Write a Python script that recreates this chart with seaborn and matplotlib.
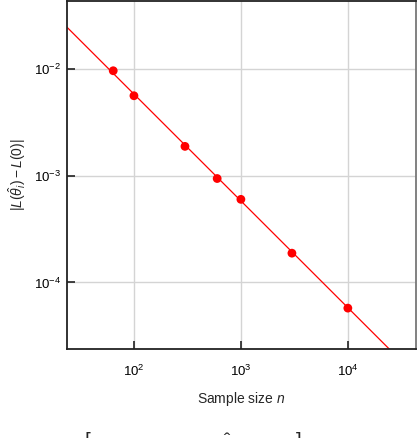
import numpy as np
import pandas as pd
import matplotlib
matplotlib.use("Agg")
import matplotlib.pyplot as plt
import seaborn as sns

# measured points
sample_n = [64, 100, 300, 600, 1000, 3000, 10000]
loss_gap = [0.0096, 0.0056, 0.00188, 0.00094, 0.0006, 0.000188, 0.0000575]

# fitted line endpoints (slope -1 on log-log)
line_n = [15, 60000]
line_gap = [0.0387, 0.00000968]

sns.set_theme(style="whitegrid")
plt.rcParams["font.family"] = ["Liberation Sans", "DejaVu Sans"]
plt.rcParams["mathtext.fontset"] = "custom"
plt.rcParams["mathtext.rm"] = "Liberation Sans"
plt.rcParams["mathtext.it"] = "Liberation Sans:italic"

fig = plt.figure(figsize=(4.18, 4.38), dpi=100)
ax = fig.add_axes([0.160, 0.204, 0.835, 0.794])

pts = pd.DataFrame({"n": sample_n, "gap": loss_gap})
fit = pd.DataFrame({"n": line_n, "gap": line_gap})

sns.lineplot(data=fit, x="n", y="gap", color="red", linewidth=0.9, ax=ax)
sns.scatterplot(data=pts, x="n", y="gap", color="red", s=40, edgecolor="none", ax=ax, zorder=3)

ax.set_xscale("log")
ax.set_yscale("log")
ax.set_xlim(23.6, 43300)
ax.set_ylim(2.4e-5, 0.0433)
ax.set_xticks([1e2, 1e3, 1e4])
ax.set_yticks([1e-2, 1e-3, 1e-4])
ax.minorticks_off()

ax.grid(True, color="#d4d4d4", linewidth=1.0)
ax.set_facecolor("white")
for side in ["left", "bottom", "top"]:
    ax.spines[side].set_color("#222222")
    ax.spines[side].set_linewidth(1.3)
ax.spines["right"].set_color("#777777")
ax.spines["right"].set_linewidth(1.3)

ax.tick_params(axis="both", which="major", direction="in", length=6, width=1.2,
               bottom=True, left=True, color="#222222", labelsize=9.5, labelcolor="black")
ax.tick_params(axis="x", pad=11)
ax.tick_params(axis="y", pad=4)

ax.set_xlabel("Sample size $n$", fontsize=10, labelpad=8)
ax.set_ylabel(r"$|L(\hat{\theta}_i) - L(0)|$", fontsize=10)
ax.yaxis.set_label_coords(-0.11, 0.5)

# caption expression that is cut off at the bottom of the canvas
fig.text(0.462, -0.013, r"$\left[\qquad\qquad\qquad\qquad \hat{\theta} \qquad\qquad\right]$",
         fontsize=14, ha="center", va="center")

fig.savefig("out.png", dpi=100)
